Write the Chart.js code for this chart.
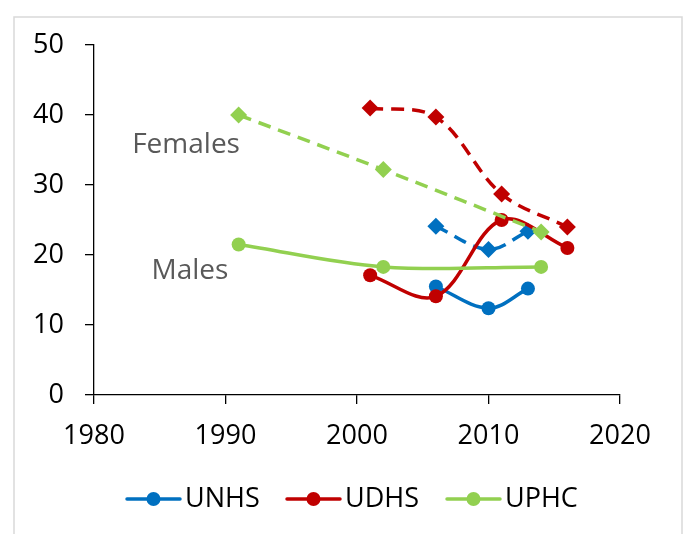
<!DOCTYPE html>
<html>
<head>
<meta charset="utf-8">
<script src="https://cdn.jsdelivr.net/npm/chart.js@4.4.1/dist/chart.umd.min.js"></script>
<style>
  html, body { margin: 0; padding: 0; background: #fff; }
  #wrap { width: 687px; height: 534px; }
</style>
</head>
<body>
<div id="wrap"><canvas id="c" width="687" height="534"></canvas></div>
<script>
// ---- data ----
const seriesNames = ['UNHS', 'UDHS', 'UPHC'];
const unhsYears = [2006, 2010, 2013];
const unhsMales = [15.5, 12.4, 15.2];
const unhsFemales = [24.1, 20.8, 23.4];
const udhsYears = [2001, 2006, 2011, 2016];
const udhsMales = [17.1, 14.1, 25.0, 21.0];
const udhsFemales = [41.0, 39.7, 28.7, 24.0];
const uphcYears = [1991, 2002, 2014];
const uphcMales = [21.5, 18.3, 18.3];
const uphcFemales = [40.0, 32.2, 23.3];
const xTicks = [1980, 1990, 2000, 2010, 2020];
const yTicks = [0, 10, 20, 30, 40, 50];
const noteLabels = ['Females', 'Males'];
const noteX = [1987.0, 1987.3];
const noteY = [34.6, 16.6];

const colors = { UNHS: '#0070C0', UDHS: '#C00000', UPHC: '#92D050' };
const FONT = "'Open Sans', 'DejaVu Sans', sans-serif";

function pts(xs, ys) { return xs.map((x, i) => ({ x: x, y: ys[i] })); }

function males(name, xs, ys, order) {
  return {
    label: name, data: pts(xs, ys), order: order,
    borderColor: colors[name], backgroundColor: colors[name],
    borderWidth: 3.5, pointStyle: 'circle', pointRadius: 7, pointHoverRadius: 7,
    pointBorderWidth: 0, tension: 0.35, fill: false, isMale: true
  };
}
function females(name, xs, ys, order) {
  return {
    label: name + ' females', data: pts(xs, ys), order: order,
    borderColor: colors[name], backgroundColor: colors[name],
    borderWidth: 3.5, borderDash: [13, 8], pointStyle: 'rectRot', pointRadius: 8.5, pointHoverRadius: 8.5,
    pointBorderWidth: 0, tension: 0.35, fill: false, isMale: false
  };
}

const datasets = [
  males('UNHS', unhsYears, unhsMales, 6),
  females('UNHS', unhsYears, unhsFemales, 5),
  males('UDHS', udhsYears, udhsMales, 4),
  females('UDHS', udhsYears, udhsFemales, 3),
  males('UPHC', uphcYears, uphcMales, 2),
  females('UPHC', uphcYears, uphcFemales, 1)
];

const frame = {
  id: 'frame',
  beforeDraw(chart) {
    const ctx = chart.ctx;
    ctx.save();
    ctx.fillStyle = '#fff';
    ctx.fillRect(0, 0, chart.width, chart.height);
    ctx.strokeStyle = '#d9d9d9';
    ctx.lineWidth = 1.5;
    ctx.strokeRect(14, 17, 668, 540);
    ctx.restore();
  }
};

const notes = {
  id: 'notes',
  afterDatasetsDraw(chart) {
    const ctx = chart.ctx, xs = chart.scales.x, ys = chart.scales.y;
    ctx.save();
    ctx.font = '28px ' + FONT;
    ctx.fillStyle = '#595959';
    ctx.textAlign = 'center';
    ctx.textBaseline = 'alphabetic';
    noteLabels.forEach((t, i) => {
      ctx.fillText(t, xs.getPixelForValue(noteX[i]), ys.getPixelForValue(noteY[i]));
    });
    ctx.restore();
  }
};

const legendLine = {
  id: 'legendLine',
  afterDraw(chart) {
    const ctx = chart.ctx;
    const items = chart.data.datasets.filter(d => d.isMale);
    ctx.save();
    ctx.font = '27px ' + FONT;
    ctx.textBaseline = 'middle';
    ctx.textAlign = 'left';
    const cy = 499;
    items.forEach((d, i) => {
      const x0 = 127 + i * 160;
      ctx.strokeStyle = d.borderColor;
      ctx.lineWidth = 3.5;
      ctx.lineCap = 'round';
      ctx.beginPath(); ctx.moveTo(x0, cy); ctx.lineTo(x0 + 53, cy); ctx.stroke();
      ctx.fillStyle = d.borderColor;
      ctx.beginPath(); ctx.arc(x0 + 26.5, cy, 7, 0, Math.PI * 2); ctx.fill();
      ctx.fillStyle = '#000';
      ctx.fillText(d.label, x0 + 58, cy);
    });
    ctx.restore();
  }
};

new Chart(document.getElementById('c'), {
  type: 'line',
  data: { datasets: datasets },
  options: {
    responsive: false,
    animation: false,
    devicePixelRatio: 1,
    layout: { padding: { left: 0, right: 67, top: 45, bottom: 0 } },
    plugins: {
      legend: { display: false },
      tooltip: { enabled: false }
    },
    scales: {
      x: {
        type: 'linear', min: 1980, max: 2020,
        afterBuildTicks: (s) => { s.ticks = xTicks.map(v => ({ value: v })); },
        afterFit: (s) => { s.height = 139; },
        grid: { drawOnChartArea: false, drawTicks: true, tickLength: 9, color: '#000', lineWidth: 1.3 },
        border: { color: '#000', width: 1.3 },
        ticks: { color: '#000', font: { family: FONT, size: 27 }, padding: 16, maxRotation: 0,
                 callback: (v) => String(v) }
      },
      y: {
        min: 0, max: 50,
        afterBuildTicks: (s) => { s.ticks = yTicks.map(v => ({ value: v })); },
        afterFit: (s) => { s.width = 94; },
        grid: { drawOnChartArea: false, drawTicks: true, tickLength: 9, color: '#000', lineWidth: 1.3 },
        border: { color: '#000', width: 1.3 },
        ticks: { color: '#000', font: { family: FONT, size: 27 }, padding: 21 }
      }
    }
  },
  plugins: [frame, notes, legendLine]
});
</script>
</body>
</html>
